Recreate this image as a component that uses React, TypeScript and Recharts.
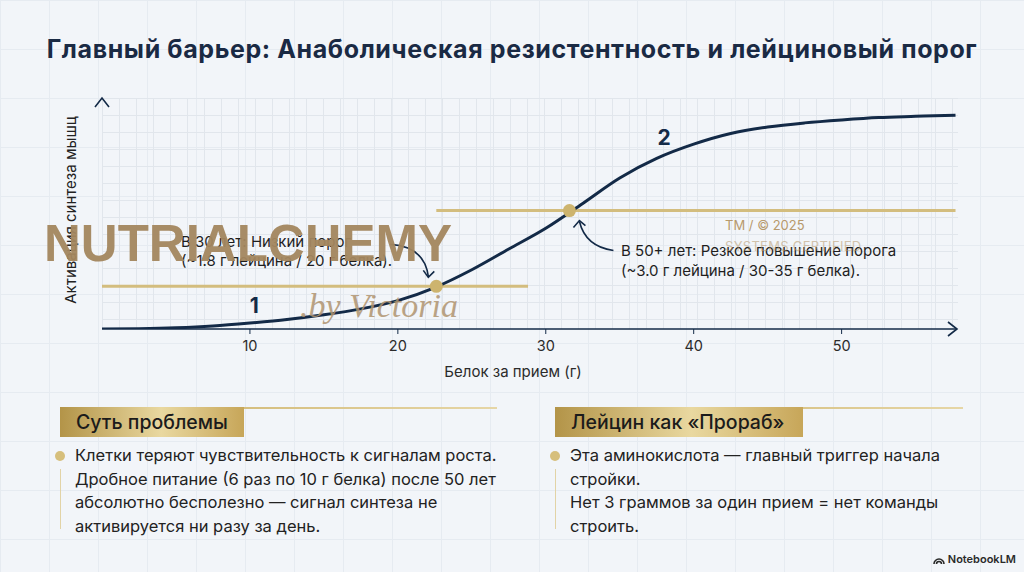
import React from 'react';
import { LineChart, Line, XAxis, YAxis, ReferenceLine, ReferenceDot } from 'recharts';

// protein per meal (g) vs. muscle synthesis activation (relative units)
const proteinGrams = [0, 2.5, 5, 7.5, 10, 12.5, 15, 17.5, 20, 22.5, 25, 27.5, 30, 32.5, 35, 37.5, 40, 42.5, 45, 47.5, 50, 52.5, 55, 57.7];
const synthesis = [0, 0.005, 0.02, 0.05, 0.1, 0.16, 0.24, 0.34, 0.48, 0.7, 1.0, 1.35, 1.7, 2.12, 2.55, 2.88, 3.12, 3.3, 3.41, 3.48, 3.53, 3.57, 3.59, 3.61];

const xTicks = [10, 20, 30, 40, 50];
const yTicks = [0, 1, 2, 3];

// thresholds: dot position plus where the gold line runs
const youngThreshold = { x: 22.6, y: 0.72, from: 0, to: 28.8 };
const oldThreshold = { x: 31.6, y: 2.0, from: 22.6, to: 57.7 };

const curveLabels = [
  { x: 10.3, y: 0.4, text: '1' },
  { x: 38.0, y: 3.24, text: '2' },
];

const problemLines = [
  'Клетки теряют чувствительность к сигналам роста.',
  'Дробное питание (6 раз по 10 г белка) после 50 лет',
  'абсолютно бесполезно — сигнал синтеза не',
  'активируется ни разу за день.',
];
const leucineLines = [
  'Эта аминокислота — главный триггер начала',
  'стройки.',
  'Нет 3 граммов за один прием = нет команды',
  'строить.',
];

const data = proteinGrams.map((g, i) => ({ g, v: synthesis[i] }));

const NAVY = '#132a47';
const GOLD = '#d3bd7e';
const FONT = 'Inter, "Noto Sans", sans-serif';

const ArrowRight = (p: any) => (
  <path d={`M${p.cx - 9},${p.cy - 7} L${p.cx},${p.cy} L${p.cx - 9},${p.cy + 7}`} fill="none" stroke={NAVY} strokeWidth={1.6} />
);
const ArrowUp = (p: any) => (
  <path d={`M${p.cx - 7},${p.cy + 9} L${p.cx},${p.cy} L${p.cx + 7},${p.cy + 9}`} fill="none" stroke={NAVY} strokeWidth={1.6} />
);

const CurveLabel = (text: string) => (p: any) => (
  <text x={p.cx} y={p.cy} textAnchor="middle" dominantBaseline="central" fontFamily={FONT} fontWeight={700} fontSize={21} fill={NAVY}>
    {text}
  </text>
);

// curved pointer into the young threshold dot (from upper-left)
const PointerLow = (p: any) => {
  const { cx, cy } = p;
  return (
    <g fill="none" stroke={NAVY} strokeWidth={1.6}>
      <path d={`M${cx - 46},${cy - 42} Q${cx - 12},${cy - 40} ${cx - 8},${cy - 10}`} />
      <path d={`M${cx - 13},${cy - 16} L${cx - 8},${cy - 9} L${cx - 2},${cy - 15}`} />
      <circle cx={cx} cy={cy} r={6.5} fill="#cdb46e" stroke="none" />
    </g>
  );
};

// curved pointer into the 50+ threshold dot (from lower-right)
const PointerHigh = (p: any) => {
  const { cx, cy } = p;
  return (
    <g fill="none" stroke={NAVY} strokeWidth={1.6}>
      <path d={`M${cx + 44},${cy + 40} Q${cx + 16},${cy + 36} ${cx + 10},${cy + 11}`} />
      <path d={`M${cx + 4},${cy + 17} L${cx + 10},${cy + 10} L${cx + 16},${cy + 15}`} />
      <circle cx={cx} cy={cy} r={6.5} fill="#cdb46e" stroke="none" />
    </g>
  );
};

function Panel({ left, top, boxWidth, lineWidth, title, lines }: { left: number; top: number; boxWidth: number; lineWidth: number; title: string; lines: string[] }) {
  return (
    <div style={{ position: 'absolute', left, top, width: lineWidth, fontFamily: FONT }}>
      <div style={{ position: 'absolute', left: 0, top: 0, width: lineWidth, height: 1.5, background: 'linear-gradient(90deg,#c9ad62,#e6d6a6)' }} />
      <div
        style={{
          position: 'absolute', left: 0, top: 0, width: boxWidth, height: 30,
          background: 'linear-gradient(90deg,#b39448 0%,#e9d8a0 55%,#c7a659 100%)',
          boxSizing: 'border-box', paddingLeft: 16, lineHeight: '30px', fontSize: 19.5, color: '#1b1b1b', fontWeight: 500,
        }}
      >
        {title}
      </div>
      <div style={{ position: 'absolute', left: -5, top: 44, width: 10, height: 10, borderRadius: 5, background: '#d6bf7c' }} />
      <div style={{ position: 'absolute', left: -0.5, top: 62, width: 1.5, height: 60, background: '#e2d3a6' }} />
      <div style={{ position: 'absolute', left: 15, top: 37, fontSize: 16.5, lineHeight: '23.5px', color: '#222', whiteSpace: 'nowrap' }}>
        {lines.map((l, i) => (
          <div key={i}>{l}</div>
        ))}
      </div>
    </div>
  );
}

export default function App() {
  return (
    <div
      style={{
        position: 'absolute', left: 0, top: 0, width: 1024, height: 572, overflow: 'hidden',
        backgroundColor: '#f2f5f9',
        backgroundImage: 'linear-gradient(#e6ebf1 1px, transparent 1px), linear-gradient(90deg, #e6ebf1 1px, transparent 1px)',
        backgroundSize: '49px 49px', fontFamily: FONT,
      }}
    >
      <div style={{ position: 'absolute', left: 0, top: 34, width: 1024, textAlign: 'center', fontSize: 25, fontWeight: 700, color: '#1a2a44', letterSpacing: 0.6, whiteSpace: 'nowrap' }}>
        Главный барьер: Анаболическая резистентность и лейциновый порог
      </div>

      {/* fine grid behind plot */}
      <div
        style={{
          position: 'absolute', left: 102, top: 98, width: 856, height: 231,
          backgroundImage: 'linear-gradient(#e1e6ec 1px, transparent 1px), linear-gradient(90deg, #e1e6ec 1px, transparent 1px)',
          backgroundSize: '17px 17px',
        }}
      />

      <div style={{ position: 'absolute', left: 0, top: 0 }}>
        <LineChart width={1024} height={572} data={data} margin={{ top: 98, right: 67, bottom: 213, left: 102 }}>
          <XAxis
            dataKey="g" type="number" domain={[0, 57.8]} ticks={xTicks} allowDataOverflow height={30}
            axisLine={{ stroke: NAVY, strokeWidth: 1.6 }} tickLine={{ stroke: NAVY }} tickSize={5} tickMargin={7}
            tick={{ fill: '#2b2b2b', fontSize: 14.5, fontFamily: FONT }}
          />
          <YAxis
            type="number" domain={[0, 3.9]} ticks={yTicks} width={0} allowDataOverflow
            axisLine={{ stroke: NAVY, strokeWidth: 1.6 }} tickLine={{ stroke: NAVY }} tickSize={5} tickFormatter={() => ''}
          />
          <ReferenceLine segment={[{ x: youngThreshold.from, y: youngThreshold.y }, { x: youngThreshold.to, y: youngThreshold.y }]} stroke={GOLD} strokeWidth={3} />
          <ReferenceLine segment={[{ x: oldThreshold.from, y: oldThreshold.y }, { x: oldThreshold.to, y: oldThreshold.y }]} stroke={GOLD} strokeWidth={3} />
          <Line type="monotone" dataKey="v" stroke={NAVY} strokeWidth={3} dot={false} isAnimationActive={false} />
          <ReferenceDot x={youngThreshold.x} y={youngThreshold.y} shape={PointerLow} ifOverflow="visible" />
          <ReferenceDot x={oldThreshold.x} y={oldThreshold.y} shape={PointerHigh} ifOverflow="visible" />
          {curveLabels.map((c) => (
            <ReferenceDot key={c.text} x={c.x} y={c.y} shape={CurveLabel(c.text)} ifOverflow="visible" />
          ))}
          <ReferenceDot x={57.8} y={0} shape={ArrowRight} ifOverflow="visible" />
          <ReferenceDot x={0} y={3.9} shape={ArrowUp} ifOverflow="visible" />
        </LineChart>
      </div>

      <div style={{ position: 'absolute', left: 513, top: 362, transform: 'translateX(-50%)', fontSize: 15, color: '#2b2b2b', whiteSpace: 'nowrap' }}>
        Белок за прием (г)
      </div>
      <div style={{ position: 'absolute', left: 70, top: 210, transform: 'translate(-50%,-50%) rotate(-90deg)', whiteSpace: 'nowrap', fontSize: 15, color: '#222' }}>
        Активация синтеза мышц
      </div>

      <div style={{ position: 'absolute', left: 181, top: 232, fontSize: 15, lineHeight: '19px', color: '#1e1e1e', whiteSpace: 'nowrap' }}>
        <div>В 30 лет: Низкий порог</div>
        <div>(~1.8 г лейцина / 20 г белка).</div>
      </div>
      <div style={{ position: 'absolute', left: 621, top: 241, fontSize: 15, lineHeight: '20px', color: '#1e1e1e', whiteSpace: 'nowrap' }}>
        <div>В 50+ лет: Резкое повышение порога</div>
        <div>(~3.0 г лейцина / 30-35 г белка).</div>
      </div>

      {/* watermark */}
      <div style={{ position: 'absolute', left: 44, top: 214, fontFamily: '"Liberation Sans", Arial, sans-serif', fontWeight: 700, fontSize: 51, color: '#a4875f', opacity: 0.95, whiteSpace: 'nowrap' }}>
        NUTRIALCHEMY
      </div>
      <div style={{ position: 'absolute', left: 300, top: 287, fontFamily: '"Liberation Serif", serif', fontStyle: 'italic', fontSize: 34, color: '#b09470', opacity: 0.85, whiteSpace: 'nowrap' }}>
        .by Victoria
      </div>
      <div style={{ position: 'absolute', left: 725, top: 217, fontSize: 13, color: '#b7996c', whiteSpace: 'nowrap' }}>TM / © 2025</div>
      <div style={{ position: 'absolute', left: 725, top: 238, fontSize: 13, color: '#b7996c', opacity: 0.55, letterSpacing: 0.3, whiteSpace: 'nowrap' }}>SYSTEMS CERTIFIED</div>

      <Panel left={60} top={407} boxWidth={184} lineWidth={437} title="Суть проблемы" lines={problemLines} />
      <Panel left={555} top={407} boxWidth={248} lineWidth={408} title="Лейцин как «Прораб»" lines={leucineLines} />

      <div style={{ position: 'absolute', right: 8, top: 552, fontSize: 11, fontWeight: 600, color: '#2a2a2a', display: 'flex', alignItems: 'center', gap: 3 }}>
        <svg width={12} height={9} viewBox="0 0 12 9">
          <path d="M1,9 A5,5 0 0 1 11,9 M3.5,9 A2.5,2.5 0 0 1 8.5,9" fill="none" stroke="#2a2a2a" strokeWidth={1.6} />
        </svg>
        NotebookLM
      </div>
    </div>
  );
}
